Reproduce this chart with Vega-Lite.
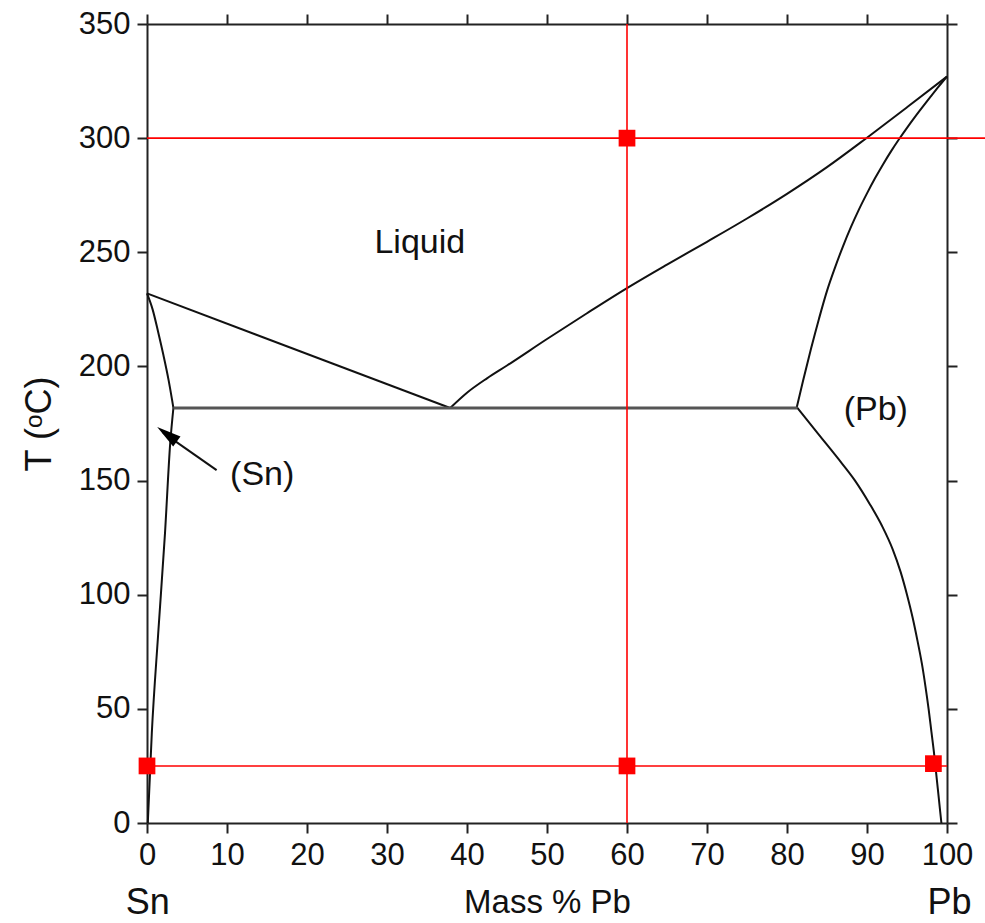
{
  "$schema": "https://vega.github.io/schema/vega-lite/v6.json",
  "width": 800,
  "height": 799,
  "autosize": {"type": "none"},
  "padding": {"left": 147, "top": 24, "right": 38, "bottom": 100},
  "background": "white",
  "config": {
    "view": {"stroke": null},
    "axis": {
      "grid": false,
      "domainColor": "#222222",
      "domainWidth": 2,
      "tickColor": "#222222",
      "tickWidth": 2,
      "tickSize": 10,
      "labelFont": "Liberation Sans",
      "labelFontSize": 31,
      "labelColor": "#111111",
      "labelPadding": 7,
      "labelFlush": false,
      "labelOverlap": false,
      "titleFont": "Liberation Sans",
      "titleFontWeight": "normal",
      "titleColor": "#111111"
    }
  },
  "datasets": {
    "curves": [
      {"c": "liqSn", "o": 1, "x": 0, "T": 232},
      {"c": "liqSn", "o": 2, "x": 37.9, "T": 181.8},
      {"c": "liqPb", "o": 1, "x": 37.9, "T": 181.8},
      {"c": "liqPb", "o": 2, "x": 40, "T": 188.5},
      {"c": "liqPb", "o": 3, "x": 42.5, "T": 194.8},
      {"c": "liqPb", "o": 4, "x": 45, "T": 200.4},
      {"c": "liqPb", "o": 5, "x": 50, "T": 212},
      {"c": "liqPb", "o": 6, "x": 55, "T": 223.3},
      {"c": "liqPb", "o": 7, "x": 60, "T": 234.3},
      {"c": "liqPb", "o": 8, "x": 65, "T": 244.6},
      {"c": "liqPb", "o": 9, "x": 70, "T": 254.6},
      {"c": "liqPb", "o": 10, "x": 75, "T": 264.8},
      {"c": "liqPb", "o": 11, "x": 80, "T": 275.6},
      {"c": "liqPb", "o": 12, "x": 85, "T": 287.3},
      {"c": "liqPb", "o": 13, "x": 90, "T": 300.2},
      {"c": "liqPb", "o": 14, "x": 95, "T": 313.5},
      {"c": "liqPb", "o": 15, "x": 100, "T": 327},
      {"c": "solPb", "o": 1, "x": 81.2, "T": 181.8},
      {"c": "solPb", "o": 2, "x": 82, "T": 193.6},
      {"c": "solPb", "o": 3, "x": 83, "T": 207.7},
      {"c": "solPb", "o": 4, "x": 84, "T": 220.9},
      {"c": "solPb", "o": 5, "x": 85, "T": 233.1},
      {"c": "solPb", "o": 6, "x": 86, "T": 243.3},
      {"c": "solPb", "o": 7, "x": 87, "T": 252.6},
      {"c": "solPb", "o": 8, "x": 88, "T": 261.1},
      {"c": "solPb", "o": 9, "x": 89, "T": 268.8},
      {"c": "solPb", "o": 10, "x": 90, "T": 275.8},
      {"c": "solPb", "o": 11, "x": 91, "T": 282.4},
      {"c": "solPb", "o": 12, "x": 92, "T": 288.5},
      {"c": "solPb", "o": 13, "x": 93, "T": 294.2},
      {"c": "solPb", "o": 14, "x": 94, "T": 299.5},
      {"c": "solPb", "o": 15, "x": 95, "T": 304.5},
      {"c": "solPb", "o": 16, "x": 96, "T": 309.3},
      {"c": "solPb", "o": 17, "x": 97, "T": 313.9},
      {"c": "solPb", "o": 18, "x": 98, "T": 318.4},
      {"c": "solPb", "o": 19, "x": 99, "T": 322.8},
      {"c": "solPb", "o": 20, "x": 100, "T": 327},
      {"c": "svPb", "o": 1, "x": 81.3, "T": 181.8},
      {"c": "svPb", "o": 2, "x": 84.0, "T": 170},
      {"c": "svPb", "o": 3, "x": 86.3, "T": 160},
      {"c": "svPb", "o": 4, "x": 88.5, "T": 150},
      {"c": "svPb", "o": 5, "x": 90.3, "T": 140},
      {"c": "svPb", "o": 6, "x": 91.9, "T": 130},
      {"c": "svPb", "o": 7, "x": 93.2, "T": 120},
      {"c": "svPb", "o": 8, "x": 94.2, "T": 110},
      {"c": "svPb", "o": 9, "x": 95.0, "T": 100},
      {"c": "svPb", "o": 10, "x": 95.7, "T": 90},
      {"c": "svPb", "o": 11, "x": 96.3, "T": 80},
      {"c": "svPb", "o": 12, "x": 96.85, "T": 70},
      {"c": "svPb", "o": 13, "x": 97.3, "T": 60},
      {"c": "svPb", "o": 14, "x": 97.7, "T": 50},
      {"c": "svPb", "o": 15, "x": 98.05, "T": 40},
      {"c": "svPb", "o": 16, "x": 98.4, "T": 30},
      {"c": "svPb", "o": 17, "x": 98.7, "T": 20},
      {"c": "svPb", "o": 18, "x": 99.0, "T": 10},
      {"c": "svPb", "o": 19, "x": 99.3, "T": 0},
      {"c": "solSn", "o": 1, "x": 0, "T": 232},
      {"c": "solSn", "o": 2, "x": 0.7, "T": 225},
      {"c": "solSn", "o": 3, "x": 1.4, "T": 215},
      {"c": "solSn", "o": 4, "x": 2.05, "T": 205},
      {"c": "solSn", "o": 5, "x": 2.7, "T": 194},
      {"c": "solSn", "o": 6, "x": 3.15, "T": 185},
      {"c": "solSn", "o": 7, "x": 3.3, "T": 181.8},
      {"c": "svSn", "o": 1, "x": 0.1, "T": 0},
      {"c": "svSn", "o": 2, "x": 0.6, "T": 39.3},
      {"c": "svSn", "o": 3, "x": 1.4, "T": 83},
      {"c": "svSn", "o": 4, "x": 2.25, "T": 127},
      {"c": "svSn", "o": 5, "x": 2.9, "T": 166.3},
      {"c": "svSn", "o": 6, "x": 3.3, "T": 181.8}
    ],
    "eutectic": [
      {"x": 3.3, "x2": 81.3, "T": 181.8}
    ],
    "redlines": [
      {"x": 0, "x2": 104.8, "T": 300, "T2": 300},
      {"x": 0, "x2": 100, "T": 25, "T2": 25},
      {"x": 60, "x2": 60, "T": 0, "T2": 350}
    ],
    "redpoints": [
      {"x": 0, "T": 25},
      {"x": 60, "T": 25},
      {"x": 60, "T": 300},
      {"x": 98.3, "T": 26}
    ],
    "arrow": [
      {"x": 8.7, "x2": 2.0, "T": 154.6, "T2": 171}
    ],
    "arrowhead": [
      {"x": 2.5, "T": 170.3}
    ],
    "labels": [
      {"label": "Liquid", "x": 34.1, "T": 254},
      {"label": "(Pb)", "x": 91.1, "T": 181},
      {"label": "(Sn)", "x": 14.4, "T": 152.4}
    ],
    "ends": [
      {"label": "Sn", "x": 0.1, "T": -35},
      {"label": "Pb", "x": 100.3, "T": -35}
    ]
  },
  "layer": [
    {
      "data": {"name": "curves"},
      "mark": {"type": "line", "interpolate": "monotone", "color": "#111111", "strokeWidth": 2},
      "encoding": {
        "x": {
          "field": "x", "type": "quantitative",
          "scale": {"domain": [0, 100], "nice": false, "zero": false},
          "axis": {"orient": "bottom", "values": [0, 10, 20, 30, 40, 50, 60, 70, 80, 90, 100], "title": "Mass % Pb", "titleFontSize": 33, "titlePadding": 16}
        },
        "y": {
          "field": "T", "type": "quantitative",
          "scale": {"domain": [0, 350], "nice": false, "zero": false},
          "axis": {"orient": "left", "values": [0, 50, 100, 150, 200, 250, 300, 350], "title": "T (ᵒC)", "titleFontSize": 36, "titlePadding": 20}
        },
        "detail": {"field": "c"},
        "order": {"field": "o", "type": "quantitative"}
      }
    },
    {
      "data": {"name": "eutectic"},
      "mark": {"type": "rule", "color": "#555555", "strokeWidth": 3},
      "encoding": {
        "x": {"field": "x", "type": "quantitative", "axis": {"orient": "top", "values": [0, 10, 20, 30, 40, 50, 60, 70, 80, 90, 100], "labels": false, "title": null}},
        "x2": {"field": "x2"},
        "y": {"field": "T", "type": "quantitative", "axis": {"orient": "right", "values": [0, 50, 100, 150, 200, 250, 300, 350], "labels": false, "title": null}}
      }
    },
    {
      "data": {"name": "redlines"},
      "mark": {"type": "rule", "color": "#ff0000", "strokeWidth": 1.6, "clip": false},
      "encoding": {
        "x": {"field": "x", "type": "quantitative", "axis": null},
        "x2": {"field": "x2"},
        "y": {"field": "T", "type": "quantitative", "axis": null},
        "y2": {"field": "T2"}
      }
    },
    {
      "data": {"name": "redpoints"},
      "mark": {"type": "point", "shape": "square", "filled": true, "color": "#ff0000", "opacity": 1, "size": 280},
      "encoding": {
        "x": {"field": "x", "type": "quantitative", "axis": null},
        "y": {"field": "T", "type": "quantitative", "axis": null}
      }
    },
    {
      "data": {"name": "arrow"},
      "mark": {"type": "rule", "color": "#111111", "strokeWidth": 2},
      "encoding": {
        "x": {"field": "x", "type": "quantitative", "axis": null},
        "x2": {"field": "x2"},
        "y": {"field": "T", "type": "quantitative", "axis": null},
        "y2": {"field": "T2"}
      }
    },
    {
      "data": {"name": "arrowhead"},
      "mark": {"type": "point", "shape": "M0,-1L0.5,1L-0.5,1Z", "filled": true, "color": "#000000", "opacity": 1, "size": 600, "angle": 306.6},
      "encoding": {
        "x": {"field": "x", "type": "quantitative", "axis": null},
        "y": {"field": "T", "type": "quantitative", "axis": null}
      }
    },
    {
      "data": {"name": "labels"},
      "mark": {"type": "text", "font": "Liberation Sans", "fontSize": 34, "color": "#111111", "align": "center", "baseline": "middle"},
      "encoding": {
        "x": {"field": "x", "type": "quantitative", "axis": null},
        "y": {"field": "T", "type": "quantitative", "axis": null},
        "text": {"field": "label"}
      }
    },
    {
      "data": {"name": "ends"},
      "mark": {"type": "text", "font": "Liberation Sans", "fontSize": 36, "color": "#111111", "align": "center", "baseline": "middle"},
      "encoding": {
        "x": {"field": "x", "type": "quantitative", "axis": null},
        "y": {"field": "T", "type": "quantitative", "axis": null},
        "text": {"field": "label"}
      }
    }
  ]
}
